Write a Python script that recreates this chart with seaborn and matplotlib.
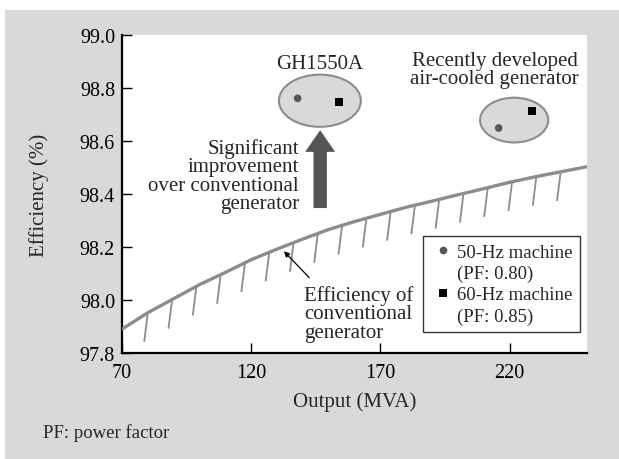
import numpy as np
import pandas as pd
import seaborn as sns
import matplotlib.pyplot as plt
from matplotlib.patches import Rectangle, Ellipse
from matplotlib.lines import Line2D

# conventional generator efficiency curve
conv_output = [70, 80, 90, 100, 110, 120, 130, 140, 150, 160,
               170, 180, 190, 200, 210, 220, 230, 240, 250]
conv_eff = [97.89, 97.952, 98.005, 98.058, 98.104, 98.152, 98.192, 98.230, 98.266, 98.296,
            98.323, 98.350, 98.373, 98.397, 98.420, 98.444, 98.465, 98.484, 98.503]

# measured machines (GH1550A, recently developed air-cooled)
name_50 = "50-Hz machine"
name_60 = "60-Hz machine"
pf_50 = "(PF: 0.80)"
pf_60 = "(PF: 0.85)"
hz50_output = [138.0, 215.8]
hz50_eff = [98.761, 98.649]
hz60_output = [154.1, 228.8]
hz60_eff = [98.747, 98.713]

x_ticks = [70, 120, 170, 220]
y_ticks = [97.8, 98.0, 98.2, 98.4, 98.6, 98.8, 99.0]

sns.set_theme(style="white")
plt.rcParams['font.family'] = ['Liberation Serif', 'DejaVu Serif']

fig = plt.figure(figsize=(6.19, 4.60), dpi=100, facecolor='white')
fig.add_artist(Rectangle((5 / 619, 0), 1, 1 - 11 / 460, transform=fig.transFigure,
                         facecolor='#d9d9d9', edgecolor='none', zorder=-10))
ax = fig.add_axes([122 / 619, 1 - 354 / 460, 465 / 619, 318 / 460])
ax.set_facecolor('white')

# hatch marks hanging under the curve
hatch_x = np.arange(80.0, 241.0, 9.4)
hatch_top = np.interp(hatch_x, conv_output, conv_eff)
for hx, ht in zip(hatch_x, hatch_top):
    ax.plot([hx, hx - 1.4], [ht, ht - 0.11], color='#8c8c8c', lw=1.3,
            solid_capstyle='butt', zorder=2)

sns.lineplot(x=conv_output, y=conv_eff, ax=ax, color='#8c8c8c', lw=2.4, zorder=3)

# ellipses round the two machine groups
ax.add_patch(Ellipse((146.6, 98.752), 31.7, 0.197, facecolor='#d9d9d9',
                     edgecolor='#8c8c8c', lw=1.5, zorder=2))
ax.add_patch(Ellipse((221.8, 98.679), 26.4, 0.169, facecolor='#d9d9d9',
                     edgecolor='#8c8c8c', lw=1.5, zorder=2))

df = pd.DataFrame({
    'output': hz50_output + hz60_output,
    'eff': hz50_eff + hz60_eff,
    'machine': [name_50] * len(hz50_output) + [name_60] * len(hz60_output),
})
sns.scatterplot(data=df, x='output', y='eff', hue='machine', style='machine',
                markers={name_50: 'o', name_60: 's'},
                palette={name_50: '#555555', name_60: 'black'},
                s=30, linewidth=0, ax=ax, zorder=4, legend=True)

handles, labels = ax.get_legend_handles_labels()
hmap = dict(zip(labels, handles))
for h in handles:
    h.set_markersize(5.5)
blank = Line2D([], [], color='none', marker=None)
leg = ax.legend([hmap[name_50], blank, hmap[name_60], blank],
                [name_50, pf_50, name_60, pf_60],
                loc='upper right', bbox_to_anchor=(0.985, 0.368),
                fontsize=13.5, frameon=True, fancybox=False, handlelength=1.3,
                handletextpad=0.1, borderpad=0.42, labelspacing=0.21, borderaxespad=0)
leg.get_frame().set_edgecolor('black')
leg.get_frame().set_linewidth(1.0)

# big improvement arrow
ax.arrow(146.7, 98.347, 0, 0.294, width=5.2, head_width=11.6, head_length=0.082,
         length_includes_head=True, color='#555555', lw=0, zorder=3)

ax.text(146.5, 98.858, "GH1550A", ha='center', va='bottom', fontsize=15)
ax.text(214.2, 98.80, "Recently developed\nair-cooled generator", ha='center',
        va='bottom', fontsize=15, linespacing=0.95)
ax.text(138.5, 98.47, "Significant\nimprovement\nover conventional\ngenerator",
        ha='right', va='center', fontsize=15, linespacing=0.95)
ax.text(140.6, 97.95, "Efficiency of\nconventional\ngenerator", ha='left',
        va='center', fontsize=15, linespacing=0.95)
ax.annotate("", xy=(132.7, 98.184), xytext=(142.5, 98.084),
            arrowprops=dict(arrowstyle='-|>', color='black', lw=0.9,
                            mutation_scale=8, shrinkA=0, shrinkB=0))

ax.set_xlim(70, 250)
ax.set_ylim(97.8, 99.0)
ax.set_xticks(x_ticks)
ax.set_yticks(y_ticks)
ax.set_yticklabels([f"{v:.1f}" for v in y_ticks])
ax.tick_params(axis='both', direction='in', length=7, width=1.0, colors='black',
               labelsize=14.5, left=True, bottom=True)
ax.tick_params(axis='x', pad=7)
ax.tick_params(axis='y', pad=5)
for side in ['top', 'right']:
    ax.spines[side].set_visible(False)
for side in ['left', 'bottom']:
    ax.spines[side].set_color('black')
    ax.spines[side].set_linewidth(1.6)

ax.set_xlabel("Output (MVA)", fontsize=15)
ax.set_ylabel("Efficiency (%)", fontsize=15)
ax.xaxis.label.set_va('center')
ax.xaxis.set_label_coords(0.5, -0.151)
ax.yaxis.label.set_va('center')
ax.yaxis.set_label_coords(-0.178, 0.5)

fig.text(43 / 619, 1 - 433 / 460, "PF: power factor", ha='left', va='center',
         fontsize=13.5)

fig.savefig("out.png", dpi=100, facecolor=fig.get_facecolor())
